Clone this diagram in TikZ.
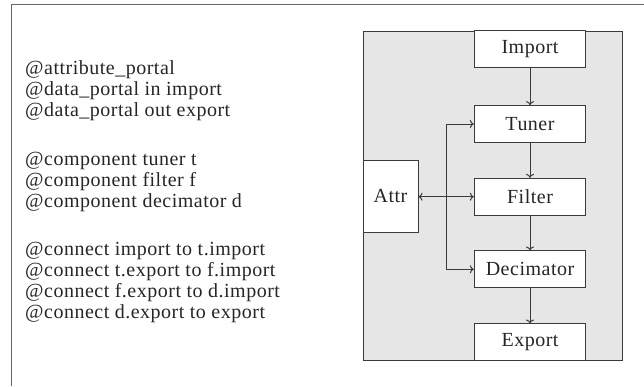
\documentclass[tikz,border=0pt]{standalone}
\usepackage{fontspec}
\setmainfont{Liberation Serif}[LetterSpace=2.5]
\usetikzlibrary{arrows.meta}
\definecolor{lc}{HTML}{3A3A3A}
\definecolor{panel}{HTML}{E6E6E6}
\definecolor{frame}{HTML}{666666}
\begin{document}
\begin{tikzpicture}[x=1pt,y=-1pt,
  box/.style={draw=lc,line width=1pt,fill=white,minimum width=111.4pt,minimum height=36.7pt,inner sep=0pt,font=\fontsize{20}{22}\selectfont,text=black!85},
  conn/.style={draw=lc,line width=1pt,-{To[length=4pt,width=8pt]}},
  codeline/.style={anchor=base west,inner sep=0pt,font=\fontsize{20}{22}\selectfont,text=black!85}]
\useasboundingbox (0,0) rectangle (644,386);
% outer frame (top and left visible)
\draw[frame,line width=1.4pt] (11.5,386) -- (11.5,4.5) -- (644,4.5);
% panel
\filldraw[fill=panel,draw=lc,line width=1pt] (363,31) rectangle (622,360.7);
% boxes
\node[box] (imp) at (530,49.3) {Import};
\node[box] (tun) at (530,124) {Tuner};
\node[box] (fil) at (530,196.7) {Filter};
\node[box] (dec) at (530,269.3) {Decimator};
\node[box] (exp) at (530,342.3) {Export};
\node[box,minimum width=55pt,minimum height=72.7pt] (attr) at (390.5,196.35) {Attr};
\coordinate (vt) at (446,124);
\coordinate (vb) at (446,269.3);
% connectors
\draw[conn] (imp) -- (tun);
\draw[conn] (tun) -- (fil);
\draw[conn] (fil) -- (dec);
\draw[conn] (dec) -- (exp);
\draw[conn,{To[length=4pt,width=8pt]}-{To[length=4pt,width=8pt]}] (attr.east |- fil) -- (fil.west);
\draw[conn] (vt) -- (tun.west);
\draw[conn] (vt) -- (vb) -- (dec.west);
% code text
\node[codeline] (c1) at (25,74) {@attribute\_portal};
\node[codeline] (c2) at (25,95) {@data\_portal in import};
\node[codeline] (c3) at (25,116) {@data\_portal out export};
\node[codeline] (c4) at (25,165) {@component tuner t};
\node[codeline] (c5) at (25,186) {@component filter f};
\node[codeline] (c6) at (25,207) {@component decimator d};
\node[codeline] (c7) at (25,255) {@connect import to t.import};
\node[codeline] (c8) at (25,276) {@connect t.export to f.import};
\node[codeline] (c9) at (25,297) {@connect f.export to d.import};
\node[codeline] (c10) at (25,318) {@connect d.export to export};
\end{tikzpicture}
\end{document}
